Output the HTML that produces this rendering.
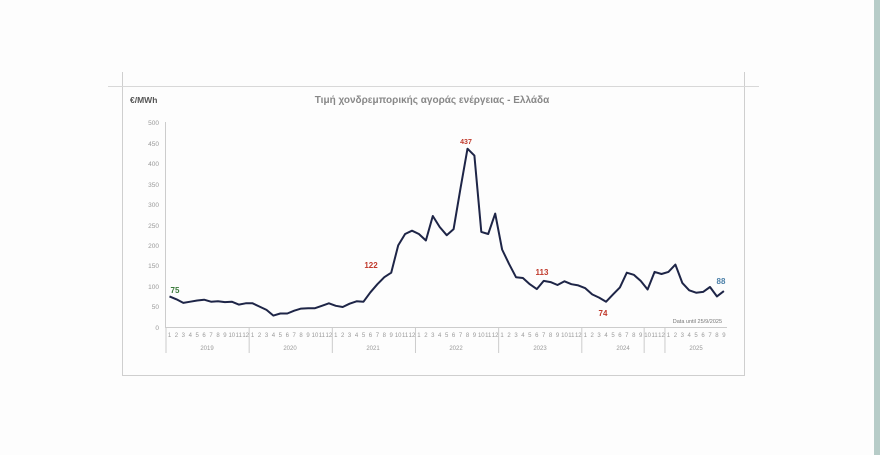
<!DOCTYPE html>
<html><head><meta charset="utf-8"><style>
html,body{margin:0;padding:0;background:#fdfdfd;width:880px;height:455px;overflow:hidden}
svg{position:absolute;left:0;top:0}
text{font-family:"Liberation Sans",sans-serif}
</style></head><body>
<svg width="880" height="455" xmlns="http://www.w3.org/2000/svg">
<rect x="874" y="0" width="6" height="455" fill="#b7ccc8"/>
<line x1="122.5" y1="72" x2="122.5" y2="375" stroke="#cfcfcf"/>
<line x1="744.5" y1="72" x2="744.5" y2="375" stroke="#cfcfcf"/>
<line x1="122" y1="375.5" x2="745" y2="375.5" stroke="#cfcfcf"/>
<line x1="108" y1="86.5" x2="759" y2="86.5" stroke="#d8d8d8"/>
<text x="130" y="103" font-size="8.5" font-weight="bold" fill="#555">€/MWh</text>
<text x="432" y="103" font-size="10" font-weight="bold" fill="#888" text-anchor="middle">Τιμή χονδρεμπορικής αγοράς ενέργειας - Ελλάδα</text>
<g font-size="6.5" fill="#999" text-anchor="end">
<text x="159" y="125">500</text><text x="159" y="146">450</text><text x="159" y="166">400</text><text x="159" y="187">350</text><text x="159" y="207">300</text><text x="159" y="228">250</text><text x="159" y="248">200</text><text x="159" y="268">150</text><text x="159" y="289">100</text><text x="159" y="309">50</text><text x="159" y="330">0</text>
</g>
<line x1="165.5" y1="122" x2="165.5" y2="327" stroke="#ccc"/>
<line x1="165" y1="327.5" x2="727" y2="327.5" stroke="#ccc"/>
<g stroke="#ccc" id="divs"></g>
<g font-size="6" fill="#999" text-anchor="middle" id="months"></g>
<g font-size="6" fill="#999" text-anchor="middle">
<text x="207" y="350">2019</text><text x="290" y="350">2020</text><text x="373" y="350">2021</text><text x="456" y="350">2022</text><text x="540" y="350">2023</text><text x="623" y="350">2024</text><text x="696" y="350">2025</text>
</g>
<polyline id="line" fill="none" stroke="#1e2547" stroke-width="2" stroke-linejoin="round"/>
<g font-weight="bold" font-size="8" text-anchor="middle">
<text x="175" y="293" fill="#3a7a3a">75</text>
<text x="371" y="268" fill="#c0392b">122</text>
<text x="466" y="144" fill="#c0392b" font-size="7">437</text>
<text x="542" y="275" fill="#c0392b">113</text>
<text x="603" y="316" fill="#c0392b">74</text>
<text x="721" y="284" fill="#4a7fa8">88</text>
</g>
<text x="722" y="323" font-size="5.5" fill="#777" text-anchor="end">Data until 25/9/2025</text>
</svg>
<script>
var d=[75,68,59,62,65,67,62,63,61,62,55,58,
58,50,42,28,33,33,40,45,46,46,52,58,
52,49,57,63,62,85,105,122,133,200,228,236,
228,212,272,245,225,240,340,437,420,233,228,278,
190,155,122,120,105,93,113,110,103,112,105,102,
95,80,72,62,80,97,133,128,113,92,135,130,
135,153,108,90,84,86,98,75,88];
var mw=6.93,x0=166,pts=[],ns="http://www.w3.org/2000/svg";
var mg=document.getElementById('months'),dg=document.getElementById('divs');
for(var i=0;i<d.length;i++){var x=x0+mw*(i+0.5);pts.push(x.toFixed(1)+','+(327-d[i]*0.408).toFixed(1));
var t=document.createElementNS(ns,'text');t.setAttribute('x',x.toFixed(1));t.setAttribute('y','337');t.textContent=(i%12)+1;mg.appendChild(t);}
document.getElementById('line').setAttribute('points',pts.join(' '));
for(var k=0;k<=6;k++){var xx=x0+mw*12*k;var l=document.createElementNS(ns,'line');l.setAttribute('x1',xx);l.setAttribute('x2',xx);l.setAttribute('y1',327);l.setAttribute('y2',353);dg.appendChild(l);}
var l=document.createElementNS(ns,'line');var xe=x0+mw*69;l.setAttribute('x1',xe);l.setAttribute('x2',xe);l.setAttribute('y1',327);l.setAttribute('y2',353);dg.appendChild(l);
</script>
</body></html>
